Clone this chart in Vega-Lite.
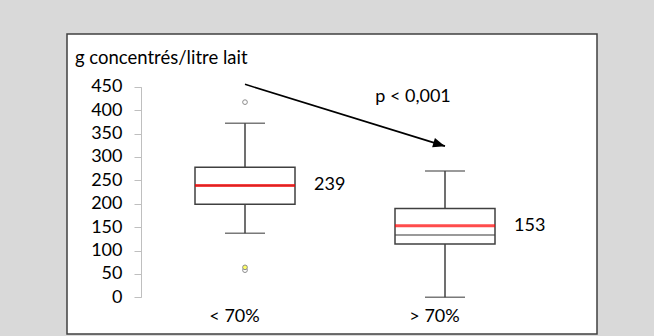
{
  "$schema": "https://vega.github.io/schema/vega-lite/v6.json",
  "width": 530,
  "height": 300,
  "autosize": {"type": "none"},
  "padding": {"left": 67, "top": 34, "right": 57, "bottom": 2},
  "background": "#d9d9d9",
  "title": {"text": "g concentrés/litre lait", "anchor": "start", "frame": "group", "orient": "top", "offset": -29, "dx": 8, "dy": 19, "baseline": "alphabetic", "fontSize": 18.5, "fontWeight": "normal", "font": "Lato", "color": "black"},
  "config": {
    "font": "Lato",
    "view": {"fill": "white", "stroke": "#404040", "strokeWidth": 1.5},
    "axisY": {"orient": "left", "offset": -74, "tickCount": 10, "labelOverlap": false, "domainColor": "#bfbfbf", "tickColor": "#bfbfbf", "tickSize": 7, "labelPadding": 12, "labelFontSize": 18, "labelFont": "Lato", "labelColor": "black", "grid": false, "labelBaseline": "middle", "titleOpacity": 0}
  },
  "datasets": {
    "boites": [
      {"groupe": "< 70%", "min": 137, "q1": 199, "mediane": 239, "moyenne": 239, "q3": 278, "max": 372},
      {"groupe": "> 70%", "min": 0, "q1": 114, "mediane": 133, "moyenne": 153, "q3": 190, "max": 270}
    ],
    "extremes": [
      {"groupe": "< 70%", "valeur": 417},
      {"groupe": "< 70%", "valeur": 58},
      {"groupe": "< 70%", "valeur": 64}
    ],
    "fleche": [
      {"groupe": "< 70%", "valeur": 455, "point": "debut"},
      {"groupe": "> 70%", "valeur": 323, "point": "fin"}
    ],
    "note": [
      {"groupe": "> 70%", "valeur": 428, "texte": "p < 0,001"}
    ]
  },
  "encoding": {
    "x": {
      "field": "groupe", "type": "nominal",
      "scale": {"type": "point", "domain": ["< 70%", "> 70%"], "range": [178, 378], "padding": 0},
      "axis": {"orient": "bottom", "offset": -13, "domain": false, "ticks": false, "tickSize": 0, "labelPadding": 0, "labelBaseline": "alphabetic", "labelFontSize": 18, "labelFont": "Lato", "labelColor": "black", "labelOffset": -11, "labelAngle": 0, "title": null, "grid": false}
    }
  },
  "layer": [
    {
      "data": {"name": "boites"},
      "mark": {"type": "rule", "color": "#404040", "strokeWidth": 1.5},
      "encoding": {
        "y": {"field": "min", "type": "quantitative", "title": null, "scale": {"domain": [0, 450], "range": [263.3, 52.7], "nice": false, "zero": false},
          "axis": {"values": [0, 50, 100, 150, 200, 250, 300, 350, 400, 450], "title": null}},
        "y2": {"field": "max"}
      }
    },
    {
      "data": {"name": "boites"},
      "mark": {"type": "bar", "fill": "white", "stroke": "#404040", "strokeWidth": 1.5, "size": 100},
      "encoding": {
        "y": {"field": "q1", "type": "quantitative", "title": null, "scale": {"domain": [0, 450], "range": [263.3, 52.7], "nice": false, "zero": false}, "axis": {"values": [0, 50, 100, 150, 200, 250, 300, 350, 400, 450], "title": null}},
        "y2": {"field": "q3"}
      }
    },
    {
      "data": {"name": "boites"},
      "mark": {"type": "tick", "color": "#404040", "size": 40, "thickness": 1.5},
      "encoding": {
        "y": {"field": "min", "type": "quantitative", "title": null, "scale": {"domain": [0, 450], "range": [263.3, 52.7], "nice": false, "zero": false}, "axis": {"values": [0, 50, 100, 150, 200, 250, 300, 350, 400, 450], "title": null}}
      }
    },
    {
      "data": {"name": "boites"},
      "mark": {"type": "tick", "color": "#404040", "size": 40, "thickness": 1.5},
      "encoding": {
        "y": {"field": "max", "type": "quantitative", "title": null, "scale": {"domain": [0, 450], "range": [263.3, 52.7], "nice": false, "zero": false}, "axis": {"values": [0, 50, 100, 150, 200, 250, 300, 350, 400, 450], "title": null}}
      }
    },
    {
      "data": {"name": "boites"},
      "mark": {"type": "tick", "color": "#404040", "size": 100, "thickness": 1.5},
      "encoding": {
        "y": {"field": "mediane", "type": "quantitative", "title": null, "scale": {"domain": [0, 450], "range": [263.3, 52.7], "nice": false, "zero": false}, "axis": {"values": [0, 50, 100, 150, 200, 250, 300, 350, 400, 450], "title": null}}
      }
    },
    {
      "data": {"name": "boites"},
      "mark": {"type": "tick", "color": "#ff0000", "size": 100, "thickness": 3},
      "encoding": {
        "y": {"field": "moyenne", "type": "quantitative", "title": null, "scale": {"domain": [0, 450], "range": [263.3, 52.7], "nice": false, "zero": false}, "axis": {"values": [0, 50, 100, 150, 200, 250, 300, 350, 400, 450], "title": null}}
      }
    },
    {
      "data": {"name": "boites"},
      "mark": {"type": "text", "align": "left", "baseline": "middle", "dx": 69, "fontSize": 18, "font": "Lato", "color": "black"},
      "encoding": {
        "y": {"field": "moyenne", "type": "quantitative", "title": null, "scale": {"domain": [0, 450], "range": [263.3, 52.7], "nice": false, "zero": false}, "axis": {"values": [0, 50, 100, 150, 200, 250, 300, 350, 400, 450], "title": null}},
        "text": {"field": "moyenne", "type": "quantitative"}
      }
    },
    {
      "data": {"name": "extremes"},
      "mark": {"type": "point", "shape": "circle", "size": 22, "stroke": "#8c8c8c", "strokeWidth": 1, "filled": false, "opacity": 1},
      "encoding": {
        "y": {"field": "valeur", "type": "quantitative", "title": null, "scale": {"domain": [0, 450], "range": [263.3, 52.7], "nice": false, "zero": false}, "axis": {"values": [0, 50, 100, 150, 200, 250, 300, 350, 400, 450], "title": null}},
        "fill": {"condition": {"test": "datum.valeur > 60 && datum.valeur < 100", "value": "#ffff66"}, "value": "white"}
      }
    },
    {
      "data": {"name": "fleche"},
      "mark": {"type": "line", "color": "black", "strokeWidth": 1.6},
      "encoding": {
        "y": {"field": "valeur", "type": "quantitative", "title": null, "scale": {"domain": [0, 450], "range": [263.3, 52.7], "nice": false, "zero": false}, "axis": {"values": [0, 50, 100, 150, 200, 250, 300, 350, 400, 450], "title": null}}
      }
    },
    {
      "data": {"name": "fleche"},
      "transform": [{"filter": "datum.point == 'fin'"}],
      "mark": {"type": "point", "shape": "M0,0L-2,-0.8L-2,0.8Z", "size": 144, "angle": 17, "filled": true, "fill": "black", "strokeWidth": 0, "opacity": 1},
      "encoding": {
        "y": {"field": "valeur", "type": "quantitative", "title": null, "scale": {"domain": [0, 450], "range": [263.3, 52.7], "nice": false, "zero": false}, "axis": {"values": [0, 50, 100, 150, 200, 250, 300, 350, 400, 450], "title": null}}
      }
    },
    {
      "data": {"name": "note"},
      "mark": {"type": "text", "align": "center", "baseline": "middle", "dx": -32, "fontSize": 18, "font": "Lato", "color": "black"},
      "encoding": {
        "y": {"field": "valeur", "type": "quantitative", "title": null, "scale": {"domain": [0, 450], "range": [263.3, 52.7], "nice": false, "zero": false}, "axis": {"values": [0, 50, 100, 150, 200, 250, 300, 350, 400, 450], "title": null}},
        "text": {"field": "texte", "type": "nominal"}
      }
    }
  ]
}
